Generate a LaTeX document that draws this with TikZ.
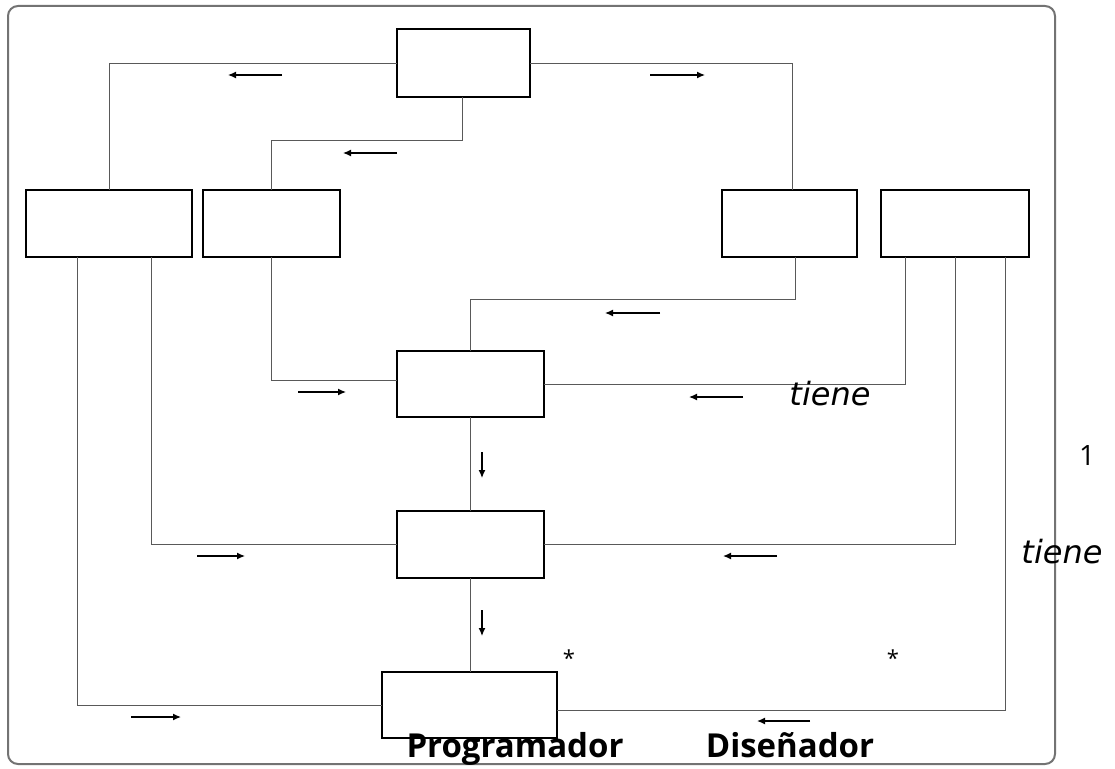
\documentclass[tikz,border=0pt]{standalone}
\usepackage{fontspec}
\setmainfont{Open Sans}
\newfontfamily\relfont{DejaVu Sans}
\usetikzlibrary{arrows.meta}
\begin{document}
\begin{tikzpicture}[x=1pt,y=-1pt,
  box/.style={draw=black,line width=1.3pt,fill=white,inner sep=0pt,outer sep=0pt},
  link/.style={draw=black!65,line width=1pt},
  dir/.style={draw=black,line width=1.3pt,-{Latex[length=8pt,width=7pt]}},
  lbl/.style={inner sep=0pt,anchor=base},
  rel/.style={lbl,font=\relfont\fontsize{32}{32}\selectfont\itshape},
  role/.style={lbl,font=\fontsize{33}{33}\selectfont\bfseries}]
\useasboundingbox (0,0) rectangle (1115,768);
\draw[black!55,line width=2pt,rounded corners=10pt] (8,6) rectangle (1055,764);

% class boxes
\node[box,minimum width=133pt,minimum height=68pt] (top) at (463.5,63) {};
\node[box,minimum width=166pt,minimum height=67pt] (l1) at (109,223.5) {};
\node[box,minimum width=137pt,minimum height=67pt] (l2) at (271.5,223.5) {};
\node[box,minimum width=135pt,minimum height=67pt] (r1) at (789.5,223.5) {};
\node[box,minimum width=148pt,minimum height=67pt] (r2) at (955,223.5) {};
\node[box,minimum width=147pt,minimum height=66pt] (m1) at (470.5,384) {};
\node[box,minimum width=147pt,minimum height=67pt] (m2) at (470.5,544.5) {};
\node[box,minimum width=175pt,minimum height=66pt] (bt) at (469.5,705) {};

% relationship lines
\draw[link] (top.west) -| (l1.north);
\draw[link] (top.east) -| ([xshift=2.5pt]r1.north);
\draw[link] ([xshift=-1.5pt]top.south) -- ++(0,43) -| (l2.north);
\draw[link] ([xshift=5.5pt]r1.south) -- ++(0,42) -| (m1.north);
\draw[link] (l2.south) |- ([yshift=4pt]m1.west);
\draw[link] ([xshift=-50pt]r2.south) |- (m1.east);
\draw[link] (m1.south) -- (m2.north);
\draw[link] ([xshift=42pt]l1.south) |- (m2.west);
\draw[link] (r2.south) |- (m2.east);
\draw[link] (m2.south) -- ([xshift=1pt]bt.north);
\draw[link] ([xshift=-32pt]l1.south) |- (bt.west);
\draw[link] ([xshift=50pt]r2.south) |- ([yshift=-5pt]bt.east);

% direction markers
\draw[dir] (282,75) -- (228,75);
\draw[dir] (650,75) -- (705,75);
\draw[dir] (397,153) -- (343,153);
\draw[dir] (660,313) -- (605,313);
\draw[dir] (298,392) -- (346,392);
\draw[dir] (743,397) -- (689,397);
\draw[dir] (482,452) -- (482,478);
\draw[dir] (197,556) -- (245,556);
\draw[dir] (777,556) -- (723,556);
\draw[dir] (482,610) -- (482,636);
\draw[dir] (131,717) -- (181,717);
\draw[dir] (810,721) -- (757,721);

% labels
\node[rel] (t1) at (830,405) {tiene};
\node[rel] (t2) at (1062,563) {tiene};
\node[lbl,font=\fontsize{28}{28}\selectfont] (one) at (1087,465) {1};
\node[lbl,font=\fontsize{22}{22}\selectfont] (s1) at (569,666) {*};
\node[lbl,font=\fontsize{22}{22}\selectfont] (s2) at (893,666) {*};
\node[role] (p) at (515,757) {Programador};
\node[role] (d) at (790,757) {Diseñador};
\end{tikzpicture}
\end{document}
